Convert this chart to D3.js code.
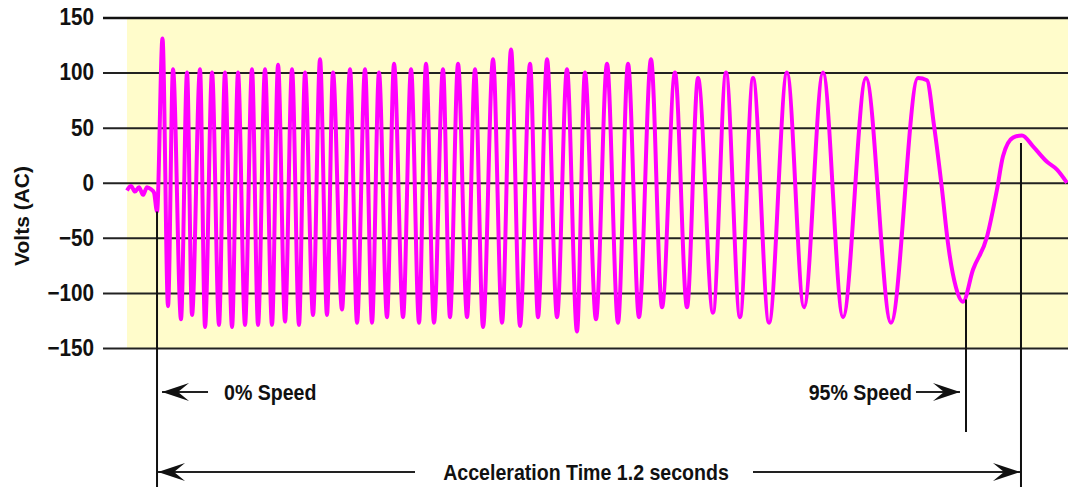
<!DOCTYPE html>
<html>
<head>
<meta charset="utf-8">
<script src="https://cdn.jsdelivr.net/npm/d3@7/dist/d3.min.js"></script>
<style>
  html, body { margin: 0; padding: 0; background: #ffffff; }
  svg { display: block; }
  text { font-family: "Liberation Sans", Arial, sans-serif; font-weight: bold; fill: #111; }
</style>
</head>
<body>
<svg id="chart" width="1068" height="487"></svg>
<script>
// ---- data (time in seconds, volts AC) ----
const timeS = [
  -0.0417, -0.0361, -0.0306, -0.0250, -0.0194, -0.0139, -0.0083, -0.0042, 0.0000,
  0.0076, 0.0153, 0.0222, 0.0333, 0.0417, 0.0486, 0.0597, 0.0667, 0.0764, 0.0861,
  0.0944, 0.1042, 0.1125, 0.1222, 0.1319, 0.1403, 0.1500, 0.1597, 0.1681, 0.1778,
  0.1875, 0.1972, 0.2056, 0.2167, 0.2264, 0.2361, 0.2444, 0.2569, 0.2681, 0.2778,
  0.2889, 0.2986, 0.3083, 0.3194, 0.3292, 0.3417, 0.3528, 0.3639, 0.3736, 0.3847,
  0.3972, 0.4069, 0.4181, 0.4306, 0.4417, 0.4528, 0.4667, 0.4792, 0.4917, 0.5042,
  0.5181, 0.5292, 0.5417, 0.5556, 0.5694, 0.5833, 0.5944, 0.6097, 0.6250, 0.6403,
  0.6542, 0.6694, 0.6861, 0.7014, 0.7194, 0.7361, 0.7514, 0.7722, 0.7903, 0.8097,
  0.8278, 0.8500, 0.8750, 0.8986, 0.9250, 0.9528, 0.9847, 1.0194, 1.0569, 1.0694,
  1.0792, 1.0903, 1.0986, 1.1097, 1.1194, 1.1333, 1.1528, 1.1667, 1.1750, 1.1889,
  1.2014, 1.2167, 1.2361, 1.2500, 1.2639
];
const volts = [
  -7, -3, -8, -4, -11, -4, -6, -9, -26,
  131, -112, 103, -124, 100, -120, 103, -131, 100, -129,
  100, -131, 100, -129, 103, -129, 103, -129, 107, -126,
  103, -129, 100, -120, 112, -120, 100, -115, 103, -127,
  103, -127, 100, -122, 108, -122, 103, -127, 108, -127,
  103, -122, 108, -122, 103, -131, 112, -127, 121, -130,
  108, -122, 112, -122, 103, -135, 100, -124, 108, -127,
  108, -122, 112, -113, 100, -113, 95, -118, 100, -122,
  95, -127, 100, -113, 100, -122, 95, -127, 95, 93,
  52, -6, -55, -95, -108, -79, -49, -6, 24, 41,
  43, 33, 19, 12, 0
];
const yTicks = [150, 100, 50, 0, -50, -100, -150];
const yLabel = "Volts (AC)";
const markerTimes = [0, 1.1236, 1.2];
const markerTopVolts = [-26, -106, 36];
const markerBottom = ["bottom", "mid", "bottom"];
const speedLabels = ["0% Speed", "95% Speed"];
const spanLabel = "Acceleration Time 1.2 seconds";

// ---- layout ----
const W = 1068, H = 487;
const plot = { left: 127, right: 1068, top: 17.5, bottom: 348 };
const gridStart = 103;

const svg = d3.select("#chart");

const x = d3.scaleLinear().domain([-0.0417, 1.2653]).range([plot.left, plot.right]);
const y = d3.scaleLinear().domain([-150, 150]).range([plot.bottom, plot.top]);

// yellow plot background
svg.append("rect")
  .attr("x", plot.left).attr("y", plot.top)
  .attr("width", plot.right - plot.left).attr("height", plot.bottom - plot.top)
  .attr("fill", "#FFFCCB");

// gridlines + tick labels
const axis = d3.axisLeft(y).tickValues(yTicks)
  .tickSize(plot.right - gridStart).tickPadding(9).tickFormat(d3.format("d"));
const ga = svg.append("g").attr("transform", `translate(${plot.right},0)`).call(axis);
ga.select(".domain").remove();
ga.selectAll(".tick line").attr("stroke", "#222").attr("stroke-width", 2);
ga.selectAll(".tick").filter(d => d === 150).select("line").attr("stroke-width", 2.6).attr("stroke", "#111");
ga.selectAll(".tick text")
  .style("font-size", "23px").style("font-weight", "bold")
  .attr("fill", "#111")
  .each(function() {
    const t = d3.select(this);
    const tx = +t.attr("x");
    t.attr("x", 0).attr("transform", `translate(${tx},0) scale(0.9,1)`);
  });

// y label
svg.append("text")
  .attr("transform", `translate(29,216) rotate(-90)`)
  .attr("text-anchor", "middle")
  .style("font-size", "21px")
  .text(yLabel);

// waveform
const pts = timeS.map((t, i) => [t, volts[i]]);
const line = d3.line().x(d => x(d[0])).y(d => y(d[1])).curve(d3.curveMonotoneX);
svg.append("path")
  .datum(pts)
  .attr("d", line)
  .attr("fill", "none")
  .attr("stroke", "#FF00FF")
  .attr("stroke-width", 4)
  .attr("stroke-linejoin", "round");

// vertical marker lines
markerTimes.forEach((t, i) => {
  svg.append("line")
    .attr("x1", x(t)).attr("x2", x(t))
    .attr("y1", y(markerTopVolts[i]))
    .attr("y2", markerBottom[i] === "bottom" ? H : 432)
    .attr("stroke", "#111").attr("stroke-width", 2);
});

// arrow helper: dir = -1 points left, +1 points right
function arrow(x1, x2, yy, dir) {
  svg.append("line")
    .attr("x1", x1).attr("x2", x2).attr("y1", yy).attr("y2", yy)
    .attr("stroke", "#222").attr("stroke-width", 2);
  const tip = dir < 0 ? Math.min(x1, x2) : Math.max(x1, x2);
  const L = 27, wdt = 9, notch = 16;
  const p = d3.path();
  p.moveTo(tip, yy);
  p.lineTo(tip - dir * L, yy - wdt);
  p.lineTo(tip - dir * notch, yy);
  p.lineTo(tip - dir * L, yy + wdt);
  p.closePath();
  svg.append("path").attr("d", p.toString()).attr("fill", "#111");
}

const rowSpeed = 392;
const rowSpan = 472;

// 0% speed
arrow(x(markerTimes[0]) + 5, x(markerTimes[0]) + 51, rowSpeed, -1);
svg.append("text")
  .attr("transform", `translate(224,${rowSpeed + 8}) scale(0.89,1)`)
  .style("font-size", "22px")
  .text(speedLabels[0]);

// 95% speed
arrow(x(markerTimes[1]) - 50, x(markerTimes[1]) - 6, rowSpeed, 1);
svg.append("text")
  .attr("transform", `translate(912,${rowSpeed + 8}) scale(0.89,1)`)
  .attr("text-anchor", "end")
  .style("font-size", "22px")
  .text(speedLabels[1]);

// acceleration span
arrow(x(markerTimes[0]) + 1, 415, rowSpan, -1);
arrow(753, x(markerTimes[2]) - 1, rowSpan, 1);
svg.append("text")
  .attr("transform", `translate(586,${rowSpan + 8}) scale(0.89,1)`)
  .attr("text-anchor", "middle")
  .style("font-size", "22px")
  .text(spanLabel);
</script>
</body>
</html>
